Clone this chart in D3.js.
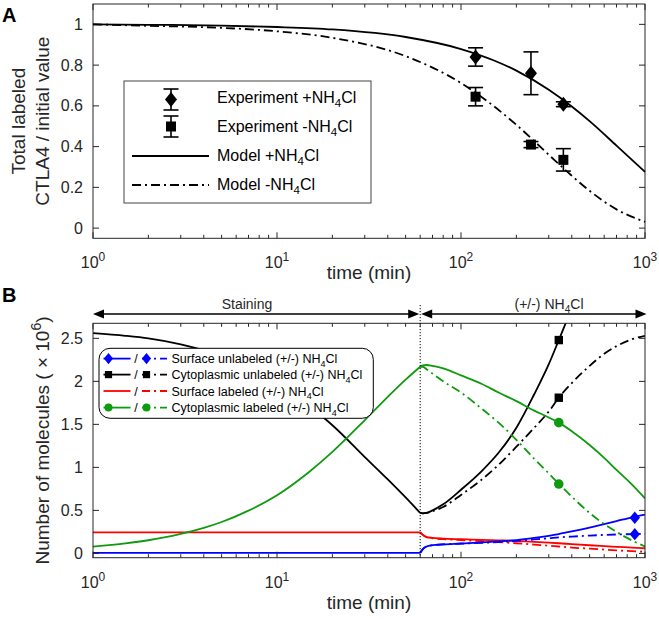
<!DOCTYPE html>
<html><head><meta charset="utf-8">
<script src="https://cdn.jsdelivr.net/npm/d3@7"></script>
<style>body{margin:0;background:#fff}svg{display:block;font-family:"Liberation Sans",Arial,Helvetica,sans-serif}</style>
</head><body><svg id="c" width="659" height="619"></svg>
<script>
// ---------- Panel A data ----------
const modelT     = [1, 2, 5, 10, 20, 50, 100, 150, 200, 300, 400, 500, 700, 1000];
const modelPlus  = [1.0, 0.998, 0.994, 0.987, 0.975, 0.938, 0.879, 0.824, 0.773, 0.679, 0.597, 0.525, 0.405, 0.276];
const modelMinus = [1.0, 0.993, 0.983, 0.966, 0.934, 0.844, 0.712, 0.600, 0.507, 0.360, 0.257, 0.183, 0.092, 0.031];
const expT        = [120, 240, 360];
const expPlus     = [0.84, 0.76, 0.608];
const expPlusErr  = [0.045, 0.105, 0.012];
const expMinus    = [0.645, 0.41, 0.335];
const expMinusErr = [0.045, 0.015, 0.055];
const yTicksA = [0, 0.2, 0.4, 0.6, 0.8, 1];
const yTickLabelsA = ["0", "0.2", "0.4", "0.6", "0.8", "1"];

// ---------- Panel B data ----------
const stainT      = [1, 1.5, 2, 3, 4, 5, 7, 10, 15, 20, 30, 40, 50, 60];
const stainCytoUn = [2.56, 2.53, 2.50, 2.43, 2.36, 2.29, 2.16, 1.98, 1.71, 1.49, 1.12, 0.86, 0.65, 0.47];
const stainCytoLb = [0.078, 0.116, 0.153, 0.226, 0.297, 0.365, 0.497, 0.676, 0.95, 1.18, 1.55, 1.82, 2.02, 2.17];
const stainSurfLb = [0.245, 0.245, 0.245, 0.245, 0.245, 0.245, 0.245, 0.245, 0.245, 0.245, 0.245, 0.245, 0.245, 0.245];
const stainSurfUn = [0.005, 0.005, 0.005, 0.005, 0.005, 0.005, 0.005, 0.005, 0.005, 0.005, 0.005, 0.005, 0.005, 0.005];

const postT = [60, 62, 65, 70, 80, 100, 130, 160, 200, 250, 300, 340, 400, 500, 600, 700, 850, 1000];
const cytoUnPlus  = [0.47, 0.465, 0.47, 0.50, 0.57, 0.74, 0.96, 1.17, 1.46, 1.85, 2.20, 2.48, 2.85];
const cytoUnMinus = [0.47, 0.465, 0.47, 0.49, 0.54, 0.68, 0.86, 1.03, 1.24, 1.46, 1.65, 1.81, 1.98, 2.18, 2.32, 2.41, 2.49, 2.53];
const cytoLbPlus  = [2.17, 2.185, 2.19, 2.18, 2.15, 2.07, 1.97, 1.87, 1.77, 1.66, 1.58, 1.52, 1.42, 1.26, 1.11, 0.97, 0.80, 0.64];
const cytoLbMinus = [2.17, 2.17, 2.14, 2.09, 2.00, 1.87, 1.68, 1.52, 1.32, 1.10, 0.93, 0.81, 0.66, 0.47, 0.34, 0.25, 0.15, 0.08];
const surfLbPlus  = [0.245, 0.215, 0.19, 0.18, 0.172, 0.165, 0.158, 0.152, 0.145, 0.135, 0.125, 0.118, 0.108, 0.095, 0.085, 0.077, 0.068, 0.06];
const surfLbMinus = [0.245, 0.215, 0.19, 0.175, 0.165, 0.155, 0.142, 0.132, 0.118, 0.102, 0.09, 0.08, 0.068, 0.055, 0.044, 0.035, 0.026, 0.018];
const surfUnPlus  = [0.005, 0.05, 0.08, 0.095, 0.105, 0.115, 0.128, 0.14, 0.155, 0.18, 0.205, 0.225, 0.255, 0.30, 0.34, 0.375, 0.42, 0.45];
const surfUnMinus = [0.005, 0.05, 0.08, 0.095, 0.105, 0.113, 0.123, 0.132, 0.145, 0.162, 0.176, 0.187, 0.195, 0.207, 0.215, 0.22, 0.224, 0.228];

const markT1 = 340, markT2 = 880;
const markCytoUn = [2.48, 1.81];
const markCytoLb = [1.52, 0.806];
const markSurfUn = [0.414, 0.224];
const yTicksB = [0, 0.5, 1, 1.5, 2, 2.5];
const yTickLabelsB = ["0", "0.5", "1", "1.5", "2", "2.5"];
const xMajor = [1, 10, 100, 1000];
const xExp = ["0", "1", "2", "3"];
const tStainEnd = 60;

const legendA = ["Experiment +NH", "Experiment -NH", "Model +NH", "Model -NH"];
const legendB = ["Surface unlabeled (+/-) NH", "Cytoplasmic unlabeled (+/-) NH", "Surface labeled (+/-) NH", "Cytoplasmic labeled (+/-) NH"];

// ---------- drawing ----------
const svg = d3.select("#c");
const AX = "#262626";
const BLUE = "#0000ff", RED = "#ff0000", GREEN = "#0f9a0f", BLACK = "#000";
const DASHDOT = "9,4,2,4";

const minors = [];
for (let k = 0; k < 3; k++) for (let m = 2; m <= 9; m++) minors.push(m * Math.pow(10, k));

function frame(g, x, y, yTicks, yLabels, L, R, T, B) {
  g.append("rect").attr("x", L).attr("y", T).attr("width", R - L).attr("height", B - T)
    .attr("fill", "none").attr("stroke", AX).attr("stroke-width", 1);
  const tick = (sel) => sel.attr("stroke", AX).attr("stroke-width", 1);
  g.selectAll(null).data(xMajor).join("line").call(tick)
    .attr("x1", d => x(d)).attr("x2", d => x(d)).attr("y1", B).attr("y2", B - 6);
  g.selectAll(null).data(xMajor).join("line").call(tick)
    .attr("x1", d => x(d)).attr("x2", d => x(d)).attr("y1", T).attr("y2", T + 6);
  g.selectAll(null).data(minors).join("line").call(tick)
    .attr("x1", d => x(d)).attr("x2", d => x(d)).attr("y1", B).attr("y2", B - 3.5);
  g.selectAll(null).data(minors).join("line").call(tick)
    .attr("x1", d => x(d)).attr("x2", d => x(d)).attr("y1", T).attr("y2", T + 3.5);
  g.selectAll(null).data(yTicks).join("line").call(tick)
    .attr("x1", L).attr("x2", L + 6).attr("y1", d => y(d)).attr("y2", d => y(d));
  g.selectAll(null).data(yTicks).join("line").call(tick)
    .attr("x1", R).attr("x2", R - 6).attr("y1", d => y(d)).attr("y2", d => y(d));
  g.selectAll(null).data(yTicks).join("text")
    .attr("x", L - 10).attr("y", d => y(d) + 5.5).attr("text-anchor", "end")
    .attr("font-size", 16).attr("fill", AX).text((d, i) => yLabels[i]);
  xMajor.forEach((v, i) => {
    const t = g.append("text").attr("x", x(v)).attr("y", B + 30).attr("text-anchor", "middle")
      .attr("font-size", 16).attr("fill", AX);
    t.append("tspan").text("10");
    t.append("tspan").attr("dy", -7).attr("font-size", 12).text(xExp[i]);
  });
}

function nh4(textSel, base, size) {
  textSel.append("tspan").text(base);
  textSel.append("tspan").attr("dy", size * 0.3).attr("font-size", size * 0.72).text("4");
  textSel.append("tspan").attr("dy", -size * 0.3).text("Cl");
}

function diamond(w, h) { return `M0,${-h}L${w},0L0,${h}L${-w},0Z`; }

// ================= Panel A =================
const LA = 93, RA = 645, TA = 4, BA = 238.3;
const xA = d3.scaleLog().domain([1, 1000]).range([LA, RA]);
const yA = d3.scaleLinear().domain([-0.05, 1.1]).range([BA, TA]);
const gA = svg.append("g");
frame(gA, xA, yA, yTicksA, yTickLabelsA, LA, RA, TA, BA);

const lineA = d3.line().x(d => xA(d[0])).y(d => yA(d[1])).curve(d3.curveMonotoneX);
gA.append("path").attr("d", lineA(modelT.map((t, i) => [t, modelPlus[i]])))
  .attr("fill", "none").attr("stroke", BLACK).attr("stroke-width", 1.8);
gA.append("path").attr("d", lineA(modelT.map((t, i) => [t, modelMinus[i]])))
  .attr("fill", "none").attr("stroke", BLACK).attr("stroke-width", 1.8).attr("stroke-dasharray", DASHDOT);

function errBar(g, xp, yv, e, yS) {
  const y1 = yS(yv + e), y2 = yS(yv - e);
  g.append("line").attr("x1", xp).attr("x2", xp).attr("y1", y1).attr("y2", y2).attr("stroke", BLACK).attr("stroke-width", 1.6);
  g.append("line").attr("x1", xp - 7.5).attr("x2", xp + 7.5).attr("y1", y1).attr("y2", y1).attr("stroke", BLACK).attr("stroke-width", 1.6);
  g.append("line").attr("x1", xp - 7.5).attr("x2", xp + 7.5).attr("y1", y2).attr("y2", y2).attr("stroke", BLACK).attr("stroke-width", 1.6);
}
expT.forEach((t, i) => {
  errBar(gA, xA(t), expPlus[i], expPlusErr[i], yA);
  gA.append("path").attr("d", diamond(6, 7.5)).attr("transform", `translate(${xA(t)},${yA(expPlus[i])})`).attr("fill", BLACK);
  errBar(gA, xA(t), expMinus[i], expMinusErr[i], yA);
  gA.append("rect").attr("x", xA(t) - 5).attr("y", yA(expMinus[i]) - 5).attr("width", 10).attr("height", 10).attr("fill", BLACK);
});

// legend A
const lgA = gA.append("g");
lgA.append("rect").attr("x", 124).attr("y", 81).attr("width", 247).attr("height", 122)
  .attr("fill", "#fff").attr("stroke", "#444").attr("stroke-width", 1);
const rowA = [97, 126, 155, 184];
[[0, "d"], [1, "s"]].forEach(([r, s]) => {
  const cy = rowA[r] + (r === 0 ? 2.5 : 0.5);
  const y1 = cy - 10.5, y2 = cy + 10.5;
  lgA.append("line").attr("x1", 171).attr("x2", 171).attr("y1", y1).attr("y2", y2).attr("stroke", BLACK).attr("stroke-width", 1.6);
  lgA.append("line").attr("x1", 163.5).attr("x2", 178.5).attr("y1", y1).attr("y2", y1).attr("stroke", BLACK).attr("stroke-width", 1.6);
  lgA.append("line").attr("x1", 163.5).attr("x2", 178.5).attr("y1", y2).attr("y2", y2).attr("stroke", BLACK).attr("stroke-width", 1.6);
  if (s === "d") lgA.append("path").attr("d", diamond(6, 7.5)).attr("transform", `translate(171,${cy})`).attr("fill", BLACK);
  else lgA.append("rect").attr("x", 166).attr("y", cy - 5).attr("width", 10).attr("height", 10).attr("fill", BLACK);
});
lgA.append("line").attr("x1", 132).attr("x2", 209).attr("y1", rowA[2] + 1).attr("y2", rowA[2] + 1).attr("stroke", BLACK).attr("stroke-width", 1.8);
lgA.append("line").attr("x1", 132).attr("x2", 209).attr("y1", rowA[3] + 1).attr("y2", rowA[3] + 1).attr("stroke", BLACK).attr("stroke-width", 1.8).attr("stroke-dasharray", DASHDOT);
legendA.forEach((s, i) => {
  const t = lgA.append("text").attr("x", 217).attr("y", rowA[i] + 5.5).attr("font-size", 16).attr("fill", BLACK);
  nh4(t, s, 16);
});

gA.append("text").attr("transform", `translate(25,${(TA + BA) / 2}) rotate(-90)`).attr("text-anchor", "middle")
  .attr("font-size", 19).attr("fill", AX).text("Total labeled");
gA.append("text").attr("transform", `translate(49,${(TA + BA) / 2}) rotate(-90)`).attr("text-anchor", "middle")
  .attr("font-size", 19).attr("fill", AX).text("CTLA4 / initial value");
gA.append("text").attr("x", (LA + RA) / 2).attr("y", 279).attr("text-anchor", "middle")
  .attr("font-size", 19).attr("fill", AX).text("time (min)");
svg.append("text").attr("x", 2).attr("y", 22).attr("font-size", 20).attr("font-weight", "bold").text("A");

// ================= Panel B =================
const LB = 93, RB = 645, TB = 323.3, BB = 557.7;
const xB = d3.scaleLog().domain([1, 1000]).range([LB, RB]);
const yB = d3.scaleLinear().domain([-0.05, 2.675]).range([BB, TB]);
const gB = svg.append("g");

svg.append("defs").append("clipPath").attr("id", "clipB").append("rect")
  .attr("x", LB).attr("y", TB).attr("width", RB - LB).attr("height", BB - TB);

const plotB = gB.append("g").attr("clip-path", "url(#clipB)");
const lineB = d3.line().x(d => xB(d[0])).y(d => yB(d[1])).curve(d3.curveMonotoneX);
function series(ts, vs, color, dashed) {
  plotB.append("path").attr("d", lineB(vs.map((v, i) => [ts[i], v])))
    .attr("fill", "none").attr("stroke", color).attr("stroke-width", 1.8)
    .attr("stroke-dasharray", dashed ? DASHDOT : null);
}
series(stainT, stainSurfLb, RED, false);
series(stainT, stainSurfUn, BLUE, false);
series(stainT, stainCytoUn, BLACK, false);
series(stainT, stainCytoLb, GREEN, false);
series(postT, surfLbMinus, RED, true);
series(postT, surfLbPlus, RED, false);
series(postT, surfUnMinus, BLUE, true);
series(postT, surfUnPlus, BLUE, false);
series(postT, cytoUnMinus, BLACK, true);
series(postT, cytoUnPlus, BLACK, false);
series(postT, cytoLbMinus, GREEN, true);
series(postT, cytoLbPlus, GREEN, false);

markCytoUn.forEach(v => plotB.append("rect").attr("x", xB(markT1) - 4.2).attr("y", yB(v) - 4.2).attr("width", 8.4).attr("height", 8.4).attr("fill", BLACK));
markCytoLb.forEach(v => plotB.append("circle").attr("cx", xB(markT1)).attr("cy", yB(v)).attr("r", 4.8).attr("fill", GREEN));
markSurfUn.forEach(v => plotB.append("path").attr("d", diamond(5.2, 6.2)).attr("transform", `translate(${xB(markT2)},${yB(v)})`).attr("fill", BLUE));

frame(gB, xB, yB, yTicksB, yTickLabelsB, LB, RB, TB, BB);

const xs = xB(tStainEnd);
gB.append("line").attr("x1", xs).attr("x2", xs).attr("y1", 305).attr("y2", BB)
  .attr("stroke", BLACK).attr("stroke-width", 1).attr("stroke-dasharray", "1.2,1.8");
const ay = 314;
function arrow(x1, x2) {
  gB.append("line").attr("x1", x1 + 6).attr("x2", x2 - 6).attr("y1", ay).attr("y2", ay).attr("stroke", BLACK).attr("stroke-width", 1.6);
  gB.append("path").attr("d", `M${x1},${ay}L${x1 + 11},${ay - 4.5}L${x1 + 11},${ay + 4.5}Z`).attr("fill", BLACK);
  gB.append("path").attr("d", `M${x2},${ay}L${x2 - 11},${ay - 4.5}L${x2 - 11},${ay + 4.5}Z`).attr("fill", BLACK);
}
arrow(xB(1), xs - 1);
arrow(xs + 1, xB(1000) + 1.5);
gB.append("text").attr("x", 247).attr("y", 309).attr("text-anchor", "middle").attr("font-size", 14).attr("fill", AX).text("Staining");
const ph = gB.append("text").attr("x", 549).attr("y", 309).attr("text-anchor", "middle").attr("font-size", 14).attr("fill", AX);
nh4(ph, "(+/-) NH", 14);

const lgB = gB.append("g");
lgB.append("rect").attr("x", 99).attr("y", 348.3).attr("width", 274.3).attr("height", 70).attr("rx", 11).attr("ry", 11)
  .attr("fill", "#fff").attr("stroke", BLACK).attr("stroke-width", 1);
const rowB = [358.6, 374.6, 391, 407.6];
const legColors = [BLUE, BLACK, RED, GREEN];
const legMark = ["d", "s", null, "c"];
legColors.forEach((c, i) => {
  const y = rowB[i];
  lgB.append("line").attr("x1", 103.5).attr("x2", 130.5).attr("y1", y).attr("y2", y).attr("stroke", c).attr("stroke-width", 1.8);
  lgB.append("line").attr("x1", 142).attr("x2", 167).attr("y1", y).attr("y2", y).attr("stroke", c).attr("stroke-width", 1.8).attr("stroke-dasharray", "8,4,2,4");
  [108.5, 146.5].forEach(mx => {
    if (legMark[i] === "d") lgB.append("path").attr("d", diamond(4.6, 5.6)).attr("transform", `translate(${mx},${y})`).attr("fill", c);
    if (legMark[i] === "s") lgB.append("rect").attr("x", mx - 3.6).attr("y", y - 3.6).attr("width", 7.2).attr("height", 7.2).attr("fill", c);
    if (legMark[i] === "c") lgB.append("circle").attr("cx", mx).attr("cy", y).attr("r", 4).attr("fill", c);
  });
  lgB.append("text").attr("x", 136).attr("y", y + 4.5).attr("text-anchor", "middle").attr("font-size", 12.5).attr("fill", BLACK).text("/");
  const t = lgB.append("text").attr("x", 171.5).attr("y", y + 4.5).attr("font-size", 12.5).attr("fill", BLACK);
  nh4(t, legendB[i], 12.5);
});

const yt = gB.append("text").attr("transform", `translate(49,${(TB + BB) / 2}) rotate(-90)`).attr("text-anchor", "middle")
  .attr("font-size", 19).attr("fill", AX);
yt.append("tspan").text("Number of molecules ( \u00D7 10");
yt.append("tspan").attr("dy", -8).attr("font-size", 14).text("6");
yt.append("tspan").attr("dy", 8).text(")");
gB.append("text").attr("x", (LB + RB) / 2).attr("y", 609).attr("text-anchor", "middle")
  .attr("font-size", 19).attr("fill", AX).text("time (min)");
svg.append("text").attr("x", 2).attr("y", 302).attr("font-size", 20).attr("font-weight", "bold").text("B");
</script></body></html>
